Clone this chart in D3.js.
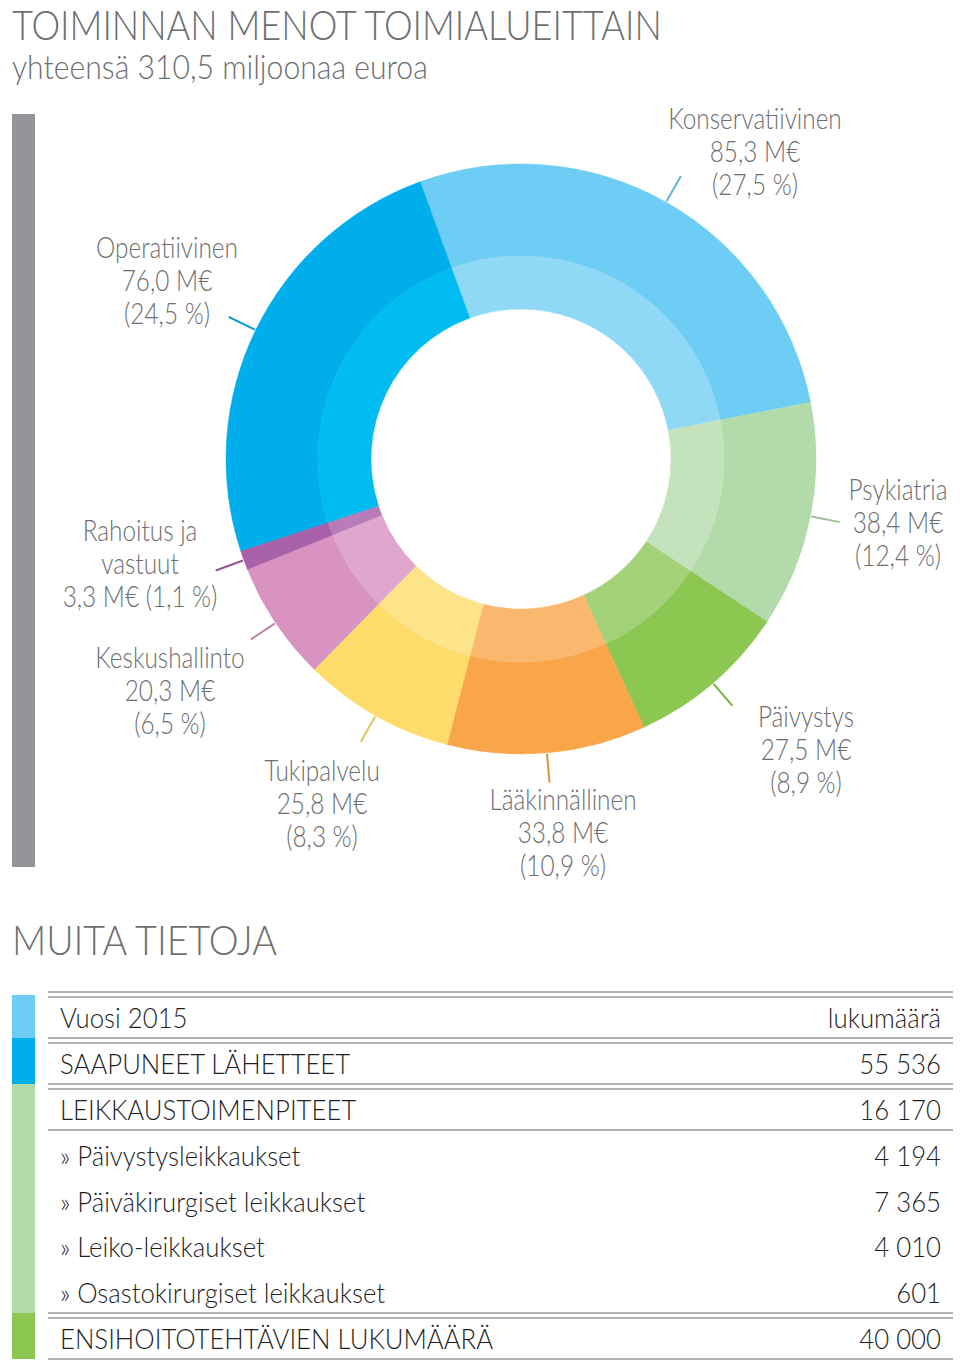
<!DOCTYPE html>
<html><head><meta charset="utf-8">
<script src="https://cdn.jsdelivr.net/npm/d3@7"></script>
<style>
body{margin:0;background:#fff;}
svg{display:block;}
text{font-family:Lato,"Open Sans",sans-serif;}
</style></head>
<body>
<svg id="c" width="960" height="1368"></svg>
<script>
// ---------- DATA ----------
const categories = ["Konservatiivinen","Psykiatria","Päivystys","Lääkinnällinen","Tukipalvelu","Keskushallinto","Rahoitus ja vastuut","Operatiivinen"];
const valuesME = [85.3, 38.4, 27.5, 33.8, 25.8, 20.3, 3.3, 76.0];
const percents = [27.5, 12.4, 8.9, 10.9, 8.3, 6.5, 1.1, 24.5];
const tableLabels = ["Vuosi 2015","SAAPUNEET LÄHETTEET","LEIKKAUSTOIMENPITEET","» Päivystysleikkaukset","» Päiväkirurgiset leikkaukset","» Leiko-leikkaukset","» Osastokirurgiset leikkaukset","ENSIHOITOTEHTÄVIEN LUKUMÄÄRÄ"];
const tableValues = ["lukumäärä","55 536","16 170","4 194","7 365","4 010","601","40 000"];
const titleText = "TOIMINNAN MENOT TOIMIALUEITTAIN";
const subtitleText = "yhteensä 310,5 miljoonaa euroa";
const section2Text = "MUITA TIETOJA";

// ---------- STYLE / LAYOUT ----------
const sliceColors = ["#6dcdf4","#b3dbaa","#8cc751","#f9a64a","#fddc6b","#d893c1","#a860a8","#00aeeb"];
const innerColors = ["#8fd8f6","#c4e3bc","#a3d17a","#fab86f","#fde38a","#dfa7cd","#b87db8","#00bcf0"];
const rowBarGroups = [[0,0,"#6dcdf4"],[1,1,"#00aeeb"],[2,6,"#b3dbaa"],[7,7,"#8cc751"]];
const sepTypes = {"-1":"double",0:"double",1:"double",2:"single",6:"double",7:"single"};
const labelLayout = [
  {x:755,y:129},
  {x:898,y:500},
  {x:806,y:727},
  {x:563,y:810},
  {x:322,y:781},
  {x:170,y:668},
  {x:140,y:541,custom:true},
  {x:167,y:258}
];
const fmt = v => String(v).replace(".",",");
const fmtV = v => v.toFixed(1).replace(".",",");

const svg = d3.select("#c");
const grayText = "#6d6e71";

// text placed in a group, horizontally scaled by k (or to a target width)
function addText(x, y, str, opts){
  const gg = svg.append("g");
  const t = gg.append("text").attr("x",0).attr("y",0)
    .attr("text-anchor",opts.anchor||"start")
    .attr("font-size",opts.size).attr("font-weight",opts.weight||300)
    .attr("fill",opts.fill||grayText).text(str);
  let k = opts.k || 1;
  if(opts.width){ k = opts.width / t.node().getComputedTextLength(); }
  gg.attr("transform",`translate(${x},${y}) scale(${k},1)`);
  return gg;
}

// Titles
addText(12,40,titleText,{size:41,width:650});
addText(12,79,subtitleText,{size:34,width:416});

// left gray bar
svg.append("rect").attr("x",12).attr("y",114).attr("width",23).attr("height",753).attr("fill","#939598");

// Donut
const cx = 521, cy = 459, rOuter = 295, rMid = 203, rInner = 150;
const deg = Math.PI/180;
const pie = d3.pie().sort(null).startAngle(-20*deg).endAngle(340*deg);
const arcs = pie(valuesME);
const g = svg.append("g").attr("transform",`translate(${cx},${cy})`);
const arcOuter = d3.arc().innerRadius(rMid).outerRadius(rOuter);
const arcInner = d3.arc().innerRadius(rInner).outerRadius(rMid);
g.selectAll("path.o").data(arcs).join("path").attr("class","o")
  .attr("d",arcOuter).attr("fill",(d,i)=>sliceColors[i]).attr("stroke",(d,i)=>sliceColors[i]).attr("stroke-width",0.5);
g.selectAll("path.i").data(arcs).join("path").attr("class","i")
  .attr("d",arcInner).attr("fill",(d,i)=>innerColors[i]).attr("stroke",(d,i)=>innerColors[i]).attr("stroke-width",0.5);

// leader lines at each slice's mid angle
g.selectAll("line.lead").data(arcs).join("line").attr("class","lead")
  .each(function(d){
    const a = (d.startAngle+d.endAngle)/2;
    const s = Math.sin(a), c = -Math.cos(a);
    d3.select(this).attr("x1",s*(rOuter+1)).attr("y1",c*(rOuter+1))
      .attr("x2",s*(rOuter+30)).attr("y2",c*(rOuter+30));
  })
  .attr("stroke",(d,i)=>d3.color(sliceColors[i]).darker(0.35)).attr("stroke-width",2);

// labels
arcs.forEach((d,i)=>{
  const L = labelLayout[i];
  const v = fmtV(valuesME[i]), p = fmt(percents[i]);
  const lines = L.custom ? ["Rahoitus ja","vastuut",v+" M€ ("+p+" %)"] : [categories[i], v+" M€", "("+p+" %)"];
  lines.forEach((ln,j)=> addText(L.x, L.y+j*33, ln, {size:29, k:0.84, anchor:"middle"}));
});

// Section 2 title
addText(12,955,section2Text,{size:42,width:265});

// Table
const rowY = d3.scaleLinear().domain([0,8]).range([992,1359]);
const x0 = 48, x1 = 953;
svg.selectAll("rect.rb").data(rowBarGroups).join("rect").attr("class","rb")
  .attr("x",12).attr("width",23)
  .attr("y",d=> Math.round(d[0]===0 ? rowY(0)+3 : rowY(d[0])))
  .attr("height",d=> Math.round(rowY(d[1]+1)) - Math.round(d[0]===0 ? rowY(0)+3 : rowY(d[0])))
  .attr("fill",d=>d[2]);
const sepG = svg.append("g").attr("stroke","#9a9a9a").attr("stroke-width",1.6);
Object.entries(sepTypes).forEach(([k,type])=>{
  const y = Math.round(rowY(+k+1));
  sepG.append("line").attr("x1",x0).attr("x2",x1).attr("y1",y).attr("y2",y);
  if(type==="double") sepG.append("line").attr("x1",x0).attr("x2",x1).attr("y1",y+5).attr("y2",y+5);
});
tableLabels.forEach((d,i)=> addText(60, rowY(i)+36, d, {size:28, k:0.92, fill:"#1f1f1f"}));
tableValues.forEach((d,i)=> addText(941, rowY(i)+36, d, {size:28, k:0.92, fill:"#1f1f1f", anchor:"end"}));
</script>
</body></html>
